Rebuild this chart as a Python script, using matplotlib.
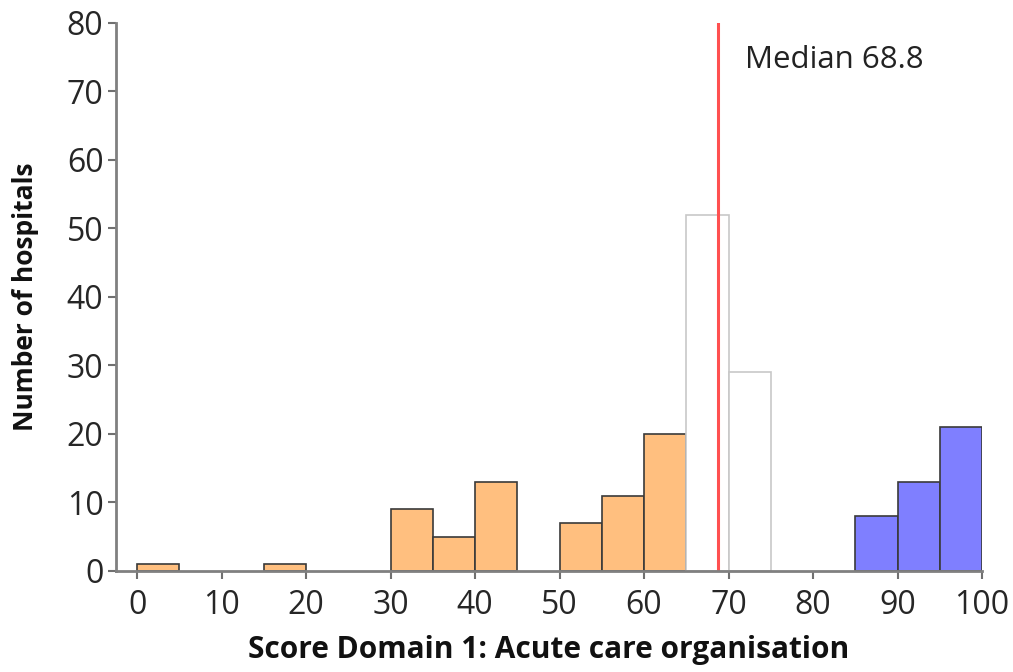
import matplotlib
matplotlib.use("Agg")
import matplotlib.pyplot as plt

bin_left = [0, 5, 10, 15, 20, 25, 30, 35, 40, 45, 50, 55, 60, 65, 70, 75, 80, 85, 90, 95]
counts   = [1, 0, 0, 1, 0, 0, 9, 5, 13, 0, 7, 11, 20, 52, 29, 0, 0, 8, 13, 21]
groups   = ["low"] * 13 + ["mid"] * 2 + ["mid"] * 2 + ["high"] * 3
median = 68.8
xticks = [0, 10, 20, 30, 40, 50, 60, 70, 80, 90, 100]
yticks = [0, 10, 20, 30, 40, 50, 60, 70, 80]

face = {"low": "#FFBF7F", "mid": "white", "high": "#7F7FFF"}
edge = {"low": "#3a3a3a", "mid": "#c8c8c8", "high": "#3a3a3a"}

plt.rcParams['font.family'] = ['Open Sans', 'DejaVu Sans']
fig = plt.figure(figsize=(10.13, 6.72), dpi=100)
ax = fig.add_axes([0.1145, 0.1503, 0.8549, 0.8155])

for x, c, g in zip(bin_left, counts, groups):
    if c > 0:
        ax.bar(x, c, width=5, align='edge', color=face[g], edgecolor=edge[g], linewidth=1.2)

ax.axvline(median, color='#FF5050', linewidth=2.2, ymax=1.0)
ax.text(71.9, 74.6, f"Median {median}", fontsize=22.5, color='#222222', va='center', ha='left')

ax.set_xlim(-2.5, 100)
ax.set_ylim(0, 80)
ax.set_xticks(xticks)
ax.set_yticks(yticks)
ax.tick_params(axis='both', labelsize=23, colors='#707070', length=6, width=1.5, labelcolor='#262626')
ax.tick_params(axis='y', pad=3)
ax.tick_params(axis='x', pad=7)
for s in ['top', 'right']:
    ax.spines[s].set_visible(False)
for s in ['left', 'bottom']:
    ax.spines[s].set_color('#808080')
    ax.spines[s].set_linewidth(2)
ax.spines['bottom'].set_bounds(-2.5, 100)

ax.set_xlabel("Score Domain 1: Acute care organisation", fontsize=21.5, fontweight='bold', color='#111111', labelpad=9)
ax.set_ylabel("Number of hospitals", fontsize=19, fontweight='bold', color='#111111', labelpad=20)

fig.savefig("out.png", dpi=100)
